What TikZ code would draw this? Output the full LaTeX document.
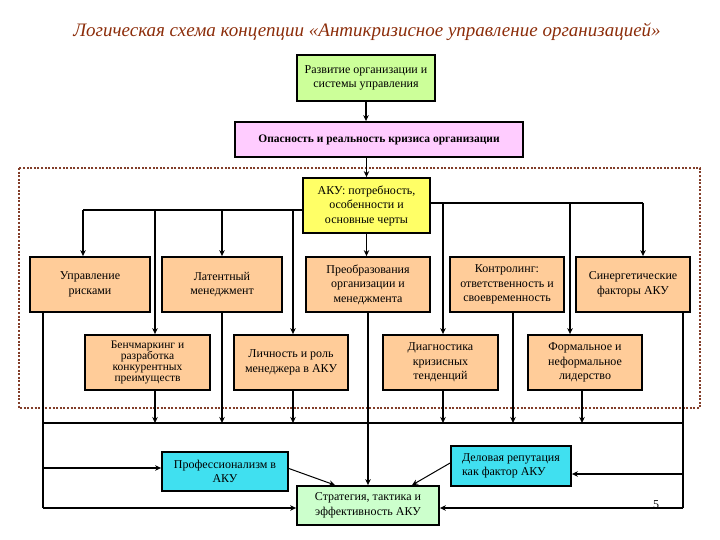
\documentclass[tikz,border=0pt]{standalone}
\usepackage{fontspec}
\setmainfont{Liberation Serif}
\usetikzlibrary{arrows.meta}

\definecolor{titlered}{RGB}{140,45,10}
\definecolor{limebox}{RGB}{204,255,153}
\definecolor{pinkbox}{RGB}{255,204,255}
\definecolor{yellowbox}{RGB}{255,255,102}
\definecolor{peachbox}{RGB}{255,204,153}
\definecolor{cyanbox}{RGB}{64,224,240}
\definecolor{mintbox}{RGB}{204,255,204}
\definecolor{framebrown}{RGB}{130,62,42}

\tikzset{
  box/.style={draw, line width=1.8pt, align=center, inner sep=2pt,
    font=\fontsize{12}{14.5}\selectfont},
  rowbox/.style={box, fill=peachbox, minimum height=55pt},
  link/.style={line width=1.7pt},
  thin link/.style={line width=1pt},
  frame/.style={draw=framebrown, line width=2.4pt, dash pattern=on 2pt off 1.6pt}
}

\begin{document}
\begin{tikzpicture}[x=1pt, y=-1pt, >={Stealth[length=6pt,width=5.5pt]}]
	\useasboundingbox (0,0) rectangle (720,540);

	% заголовок
	\node[font=\itshape\fontsize{19}{22}\selectfont, text=titlered] (title) at (367,32)
		{Логическая схема концепции «Антикризисное управление организацией»};

	% пунктирная рамка
	\draw[frame] (19,168) rectangle (700,408);

	% верхние блоки
	\node[box, fill=limebox, minimum width=138pt, minimum height=46pt] (dev) at (366,78)
		{Развитие организации и\\системы управления};
	\node[box, fill=pinkbox, minimum width=288pt, minimum height=35pt,
		font=\bfseries\fontsize{11.5}{13}\selectfont] (danger) at (379,139.5)
		{Опасность и реальность кризиса организации};
	\node[box, fill=yellowbox, minimum width=127pt, minimum height=55pt] (aku) at (366.5,205.5)
		{АКУ: потребность,\\особенности и\\основные черты};

	% первый ряд
	\node[rowbox, minimum width=120pt] (risk) at (90,284.5) {Управление\\рисками};
	\node[rowbox, minimum width=120pt] (latent) at (222,284.5) {Латентный\\менеджмент};
	\node[rowbox, minimum width=124pt] (transf) at (368,284.5)
		{Преобразования\\организации и\\менеджмента};
	\node[rowbox, minimum width=114pt] (control) at (507,284.5)
		{Контролинг:\\ответственность и\\своевременность};
	\node[rowbox, minimum width=114pt] (synerg) at (633,284.5) {Синергетические\\факторы АКУ};

	% второй ряд
	\node[rowbox, minimum width=125pt, font=\fontsize{11.5}{11}\selectfont] (bench) at (147.5,362.5)
		{Бенчмаркинг и\\разработка\\конкурентных\\преимуществ};
	\node[rowbox, minimum width=114pt] (person) at (291,362.5) {Личность и роль\\менеджера в АКУ};
	\node[rowbox, minimum width=115pt] (diagn) at (440.5,362.5)
		{Диагностика\\кризисных\\тенденций};
	\node[rowbox, minimum width=114pt] (leader) at (585,362.5)
		{Формальное и\\неформальное\\лидерство};

	% нижние блоки
	\node[box, fill=cyanbox, minimum width=126pt, minimum height=39pt] (prof) at (225,471.5)
		{Профессионализм в\\АКУ};
	\node[box, fill=cyanbox, minimum width=120pt, minimum height=40pt, align=left] (reput) at (511,466)
		{Деловая репутация\\как фактор АКУ};
	\node[box, fill=mintbox, minimum width=142pt, minimum height=39pt] (strat) at (368,505.5)
		{Стратегия, тактика и\\эффективность АКУ};
	\node[font=\fontsize{12}{14}\selectfont] (pnum) at (656,505) {5};

	% шины
	\coordinate (busL) at (83,210);
	\coordinate (busR) at (643,203);
	\coordinate (busB) at (43,423);
	\coordinate (busE) at (683,423);
	\coordinate (lowL) at (43,508);
	\coordinate (lowR) at (683,508);

	% связи сверху
	\draw[link, ->] (dev.south) -- (dev.south |- danger.north);
	\draw[link, ->] (danger.south -| aku.north) -- (aku.north);
	\draw[link, ->] (aku.south) -- (aku.south |- transf.north);

	\draw[link] (aku.west |- busL) -- (busL);
	\draw[link, ->] (busL) -- (busL |- risk.north);
	\draw[link, ->] ([xshift=7.5pt]bench.north |- busL) -- ([xshift=7.5pt]bench.north);
	\draw[link, ->] (latent.north |- busL) -- (latent.north);
	\draw[link, ->] ([xshift=2pt]person.north |- busL) -- ([xshift=2pt]person.north);

	\draw[link] (aku.east |- busR) -- (busR);
	\draw[link, ->] (busR) -- (busR |- synerg.north);
	\draw[link, ->] ([xshift=2.5pt]diagn.north |- busR) -- ([xshift=2.5pt]diagn.north);
	\draw[link, ->] ([xshift=-15pt]leader.north |- busR) -- ([xshift=-15pt]leader.north);

	% связи снизу
	\draw[link] (busB) -- (busE);
	\draw[link, ->] ([xshift=7.5pt]bench.south) -- ([xshift=7.5pt]bench.south |- busB);
	\draw[line width=2.6pt, ->] (latent.south) -- (latent.south |- busB);
	\draw[link, ->] ([xshift=2pt]person.south) -- ([xshift=2pt]person.south |- busB);
	\draw[link, ->] ([xshift=2.5pt]diagn.south) -- ([xshift=2.5pt]diagn.south |- busB);
	\draw[line width=2.6pt, ->] ([xshift=6pt]control.south) -- ([xshift=6pt]control.south |- busB);
	\draw[link, ->] ([xshift=-3pt]leader.south) -- ([xshift=-3pt]leader.south |- busB);
	\draw[link, ->] (transf.south -| strat.north) -- (strat.north);

	\draw[link] (risk.south -| lowL) -- (lowL);
	\draw[line width=2.6pt, ->] ([yshift=3.5pt]prof.west -| lowL) -- ([yshift=3.5pt]prof.west);
	\draw[line width=2.6pt, ->] (lowL) -- (lowL -| strat.west);
	\draw[link] (synerg.south -| lowR) -- (lowR);
	\draw[line width=2.6pt, ->] ([yshift=-8pt]reput.east -| lowR) -- ([yshift=-8pt]reput.east);
	\draw[line width=2.6pt, ->] (lowR) -- (lowR -| strat.east);

	\draw[thin link, ->] ([yshift=3pt]prof.east) -- ([xshift=-33pt]strat.north);
	\draw[thin link, ->] ([yshift=3pt]reput.west) -- ([xshift=44pt]strat.north);
\end{tikzpicture}
\end{document}
